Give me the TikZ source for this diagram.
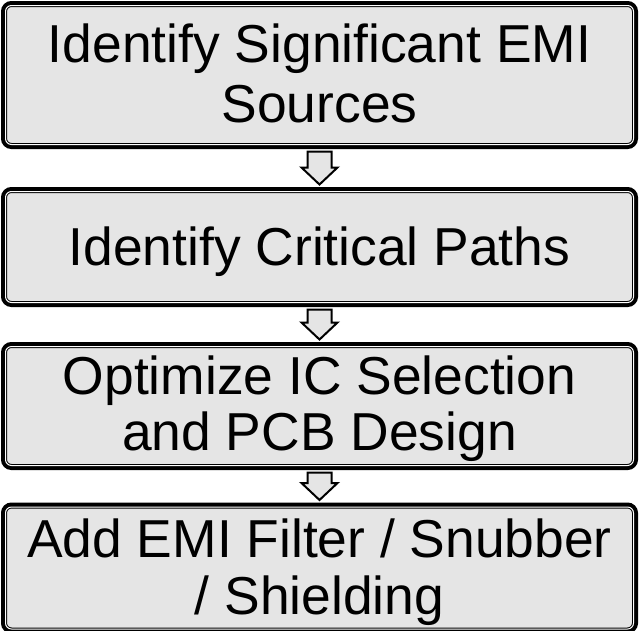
\documentclass[tikz,border=0pt]{standalone}
\usepackage{fontspec}
\setmainfont{Liberation Sans}
\usetikzlibrary{calc}
\definecolor{boxfill}{gray}{0.9}
\tikzset{
  stagebox/.style={
    rectangle, rounded corners=6pt, fill=boxfill,
    preaction={draw=black, line width=9pt},
    draw=black, line width=1pt, double=white, double distance=1pt,
    inner sep=0pt, outer sep=0pt, align=center,
    minimum width=628pt,
    font=\fontsize{53.4pt}{#1}\selectfont
  },
  stagebox/.default=58pt,
  flowarrow/.style={draw=black, line width=2pt, fill=boxfill, line join=miter}
}
% invisible struts that fix the space above the first and below the last line
\newcommand\stagetop[1]{\rule{0pt}{#1pt}}
\newcommand\stagebot{\rule[-15pt]{0pt}{15pt}}
% hollow block arrow between two stacked stages
\newcommand\stageflow[2]{%
  \draw[flowarrow] let \p1=($(#1.south)+(0,-7pt)$), \p2=($(#2.north)+(0,7pt)$) in
    (\x1-12pt,\y1) -- (\x1+12pt,\y1) -- (\x1+12pt,\y2+17pt) -- (\x1+18pt,\y2+17pt)
    -- (\x1,\y2) -- (\x1-18pt,\y2+17pt) -- (\x1-12pt,\y2+17pt) -- cycle;}
\begin{document}
\begin{tikzpicture}[x=1pt,y=-1pt]
  \useasboundingbox (0,0) rectangle (639,630);
  \node[stagebox=60pt, minimum height=139pt] (s1) at (319.5,75)
    {\stagetop{49}Identify Significant EMI\\Sources\stagebot};
  \node[stagebox, minimum height=111pt] (s2) at (319.5,247)
    {\stagetop{51}Identify Critical Paths\stagebot};
  \node[stagebox=56pt, minimum height=115pt] (s3) at (319.5,406)
    {\stagetop{48}Optimize IC Selection\\and PCB Design\stagebot};
  \node[stagebox=57pt, minimum height=113pt] (s4) at (319.5,568)
    {\stagetop{50}Add EMI Filter / Snubber\\/ Shielding\stagebot};
  \stageflow{s1}{s2}
  \stageflow{s2}{s3}
  \stageflow{s3}{s4}
\end{tikzpicture}
\end{document}
